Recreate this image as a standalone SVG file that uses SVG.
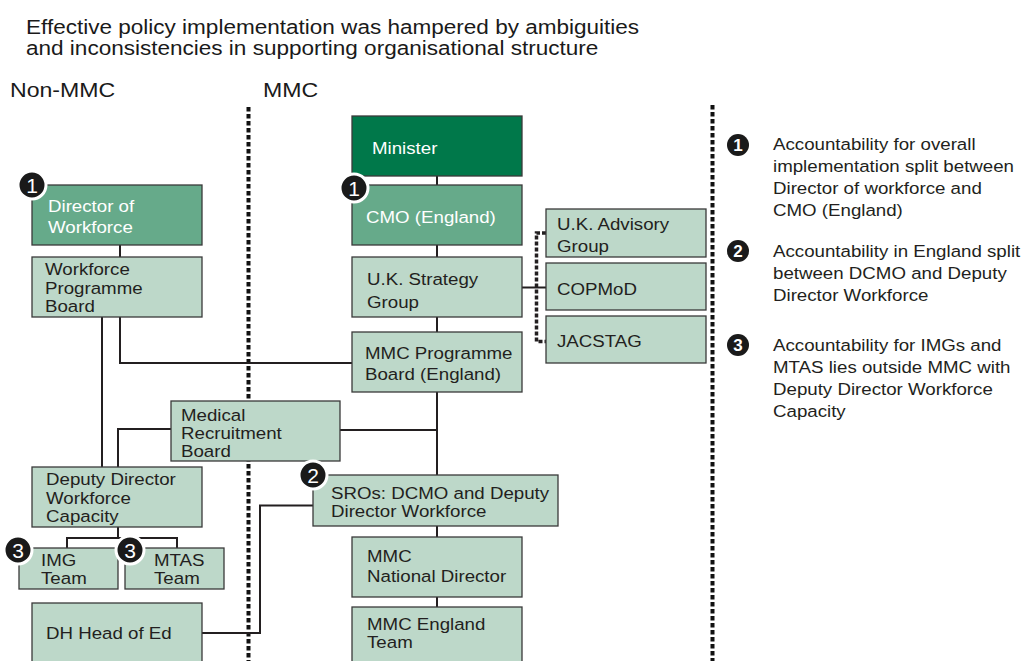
<svg xmlns="http://www.w3.org/2000/svg" width="1022" height="661" viewBox="0 0 1022 661">
  <defs>
    <style>
      text { font-family: "Liberation Sans", Arial, sans-serif; }
      .title { font-size: 19.6px; fill: #1a1a1a; }
      .head { font-size: 21px; fill: #1a1a1a; }
      .lbl { font-size: 17px; fill: #231f20; }
      .lbl-w { font-size: 17px; fill: #ffffff; }
      .legend { font-size: 17px; fill: #231f20; }
      .box { stroke: #3a3a3a; stroke-width: 1.3; }
      .dark { fill: #00784a; }
      .mid { fill: #66aa8a; }
      .light { fill: #bdd8c9; }
      .conn { fill: none; stroke: #231f20; stroke-width: 2; }
      .divider { fill: none; stroke: #111; stroke-width: 4; stroke-dasharray: 4.5 2.5; }
      .bracket { fill: none; stroke: #231f20; stroke-width: 3.5; stroke-dasharray: 4 2; }
      .badge { fill: #1a1a1a; stroke: #ffffff; stroke-width: 3; }
      .badge-s { fill: #1a1a1a; }
      .num { font-size: 21px; fill: #ffffff; text-anchor: middle; }
      .num-s { font-size: 17px; fill: #ffffff; text-anchor: middle; font-weight: bold; }
    </style>
  </defs>

  <rect width="1022" height="661" fill="#ffffff"/>

  <!-- heading -->
  <g id="heading">
    <text class="title" transform="translate(26 34) scale(1.15 1)">Effective policy implementation was hampered by ambiguities</text>
    <text class="title" transform="translate(26 55) scale(1.15 1)">and inconsistencies in supporting organisational structure</text>
    <text class="head" transform="translate(10 97) scale(1.1 1)">Non-MMC</text>
    <text class="head" transform="translate(263 97) scale(1.1 1)">MMC</text>
  </g>

  <!-- column dividers -->
  <g id="dividers">
    <line class="divider" x1="248.5" y1="107" x2="248.5" y2="661"/>
    <line class="divider" x1="712.5" y1="105" x2="712.5" y2="661"/>
  </g>

  <!-- connectors -->
  <g id="connectors">
    <!-- central MMC spine -->
    <line class="conn" x1="437" y1="176" x2="437" y2="185"/>
    <line class="conn" x1="437" y1="245" x2="437" y2="257"/>
    <line class="conn" x1="437" y1="317" x2="437" y2="332"/>
    <line class="conn" x1="437" y1="392" x2="437" y2="475"/>
    <line class="conn" x1="437" y1="526" x2="437" y2="537"/>
    <line class="conn" x1="437" y1="597" x2="437" y2="607"/>
    <!-- strategy group to advisory bodies -->
    <line class="conn" x1="522" y1="287.5" x2="546" y2="287.5"/>
    <path class="bracket" d="M546 233 H536.5 V341.5 H546"/>
    <!-- non-MMC chain -->
    <line class="conn" x1="120" y1="245" x2="120" y2="257"/>
    <line class="conn" x1="102" y1="317" x2="102" y2="467"/>
    <path class="conn" d="M120 317 V363 H352"/>
    <!-- medical recruitment board -->
    <line class="conn" x1="340" y1="430" x2="437" y2="430"/>
    <path class="conn" d="M171 429 H118 V467"/>
    <!-- deputy director to teams -->
    <line class="conn" x1="118" y1="527" x2="118" y2="538"/>
    <path class="conn" d="M67 548 V538 H177 V548"/>
    <!-- head of ed to SROs -->
    <path class="conn" d="M202 633 H260 V505.5 H313"/>
  </g>

  <!-- nodes -->
  <g id="director-of-workforce">
    <rect class="box mid" x="32" y="185" width="170" height="60"/>
    <text class="lbl-w" transform="translate(48 212) scale(1.1 1)">Director of</text>
    <text class="lbl-w" transform="translate(48 233) scale(1.1 1)">Workforce</text>
  </g>
  <g id="workforce-programme-board">
    <rect class="box light" x="32" y="257" width="170" height="60"/>
    <text class="lbl" transform="translate(45 275) scale(1.1 1)">Workforce</text>
    <text class="lbl" transform="translate(45 293.5) scale(1.1 1)">Programme</text>
    <text class="lbl" transform="translate(45 312) scale(1.1 1)">Board</text>
  </g>
  <g id="minister">
    <rect class="box dark" x="352" y="116" width="170" height="60"/>
    <text class="lbl-w" transform="translate(372 154) scale(1.1 1)">Minister</text>
  </g>
  <g id="cmo-england">
    <rect class="box mid" x="352" y="185" width="170" height="60"/>
    <text class="lbl-w" transform="translate(366 223) scale(1.1 1)">CMO (England)</text>
  </g>
  <g id="uk-strategy-group">
    <rect class="box light" x="352" y="257" width="170" height="60"/>
    <text class="lbl" transform="translate(367 285) scale(1.1 1)">U.K. Strategy</text>
    <text class="lbl" transform="translate(367 308) scale(1.1 1)">Group</text>
  </g>
  <g id="mmc-programme-board">
    <rect class="box light" x="352" y="332" width="170" height="60"/>
    <text class="lbl" transform="translate(365 359) scale(1.1 1)">MMC Programme</text>
    <text class="lbl" transform="translate(365 380) scale(1.1 1)">Board (England)</text>
  </g>
  <g id="uk-advisory-group">
    <rect class="box light" x="546" y="209" width="160" height="48"/>
    <text class="lbl" transform="translate(557 230) scale(1.1 1)">U.K. Advisory</text>
    <text class="lbl" transform="translate(557 252) scale(1.1 1)">Group</text>
  </g>
  <g id="copmod">
    <rect class="box light" x="546" y="263" width="160" height="47"/>
    <text class="lbl" transform="translate(557 295) scale(1.1 1)">COPMoD</text>
  </g>
  <g id="jacstag">
    <rect class="box light" x="546" y="316" width="160" height="47"/>
    <text class="lbl" transform="translate(557 347) scale(1.1 1)">JACSTAG</text>
  </g>
  <g id="medical-recruitment-board">
    <rect class="box light" x="171" y="401" width="169" height="60"/>
    <text class="lbl" transform="translate(181 421) scale(1.1 1)">Medical</text>
    <text class="lbl" transform="translate(181 439) scale(1.1 1)">Recruitment</text>
    <text class="lbl" transform="translate(181 457) scale(1.1 1)">Board</text>
  </g>
  <g id="deputy-director-workforce-capacity">
    <rect class="box light" x="32" y="467" width="170" height="60"/>
    <text class="lbl" transform="translate(46 485) scale(1.1 1)">Deputy Director</text>
    <text class="lbl" transform="translate(46 503.5) scale(1.1 1)">Workforce</text>
    <text class="lbl" transform="translate(46 522) scale(1.1 1)">Capacity</text>
  </g>
  <g id="img-team">
    <rect class="box light" x="19" y="548" width="99" height="41"/>
    <text class="lbl" transform="translate(41 566) scale(1.1 1)">IMG</text>
    <text class="lbl" transform="translate(41 584) scale(1.1 1)">Team</text>
  </g>
  <g id="mtas-team">
    <rect class="box light" x="125" y="548" width="99" height="41"/>
    <text class="lbl" transform="translate(154 566) scale(1.1 1)">MTAS</text>
    <text class="lbl" transform="translate(154 584) scale(1.1 1)">Team</text>
  </g>
  <g id="dh-head-of-ed">
    <rect class="box light" x="32" y="603" width="170" height="70"/>
    <text class="lbl" transform="translate(46 639) scale(1.1 1)">DH Head of Ed</text>
  </g>
  <g id="sros">
    <rect class="box light" x="313" y="475" width="245" height="51"/>
    <text class="lbl" transform="translate(331 499) scale(1.1 1)">SROs: DCMO and Deputy</text>
    <text class="lbl" transform="translate(331 517) scale(1.1 1)">Director Workforce</text>
  </g>
  <g id="mmc-national-director">
    <rect class="box light" x="352" y="537" width="170" height="60"/>
    <text class="lbl" transform="translate(367 562) scale(1.1 1)">MMC</text>
    <text class="lbl" transform="translate(367 582) scale(1.1 1)">National Director</text>
  </g>
  <g id="mmc-england-team">
    <rect class="box light" x="352" y="607" width="170" height="66"/>
    <text class="lbl" transform="translate(367 630) scale(1.1 1)">MMC England</text>
    <text class="lbl" transform="translate(367 648) scale(1.1 1)">Team</text>
  </g>

  <!-- numbered markers on nodes -->
  <g id="markers">
    <circle class="badge" cx="32" cy="185" r="14"/>
    <text class="num" x="32" y="193">1</text>
    <circle class="badge" cx="354" cy="188" r="14"/>
    <text class="num" x="354" y="196">1</text>
    <circle class="badge" cx="313" cy="475" r="14"/>
    <text class="num" x="313" y="483">2</text>
    <circle class="badge" cx="18" cy="550" r="14"/>
    <text class="num" x="18" y="558">3</text>
    <circle class="badge" cx="130" cy="550" r="14"/>
    <text class="num" x="130" y="558">3</text>
  </g>

  <!-- key -->
  <g id="legend">
    <circle class="badge-s" cx="738" cy="145" r="11"/>
    <text class="num-s" x="738" y="151">1</text>
    <text class="legend" transform="translate(773 150) scale(1.1 1)">Accountability for overall</text>
    <text class="legend" transform="translate(773 172) scale(1.1 1)">implementation split between</text>
    <text class="legend" transform="translate(773 194) scale(1.1 1)">Director of workforce and</text>
    <text class="legend" transform="translate(773 216) scale(1.1 1)">CMO (England)</text>

    <circle class="badge-s" cx="738" cy="251" r="11"/>
    <text class="num-s" x="738" y="257">2</text>
    <text class="legend" transform="translate(773 257) scale(1.1 1)">Accountability in England split</text>
    <text class="legend" transform="translate(773 279) scale(1.1 1)">between DCMO and Deputy</text>
    <text class="legend" transform="translate(773 301) scale(1.1 1)">Director Workforce</text>

    <circle class="badge-s" cx="738" cy="345" r="11"/>
    <text class="num-s" x="738" y="351">3</text>
    <text class="legend" transform="translate(773 351) scale(1.1 1)">Accountability for IMGs and</text>
    <text class="legend" transform="translate(773 373) scale(1.1 1)">MTAS lies outside MMC with</text>
    <text class="legend" transform="translate(773 395) scale(1.1 1)">Deputy Director Workforce</text>
    <text class="legend" transform="translate(773 417) scale(1.1 1)">Capacity</text>
  </g>
</svg>
